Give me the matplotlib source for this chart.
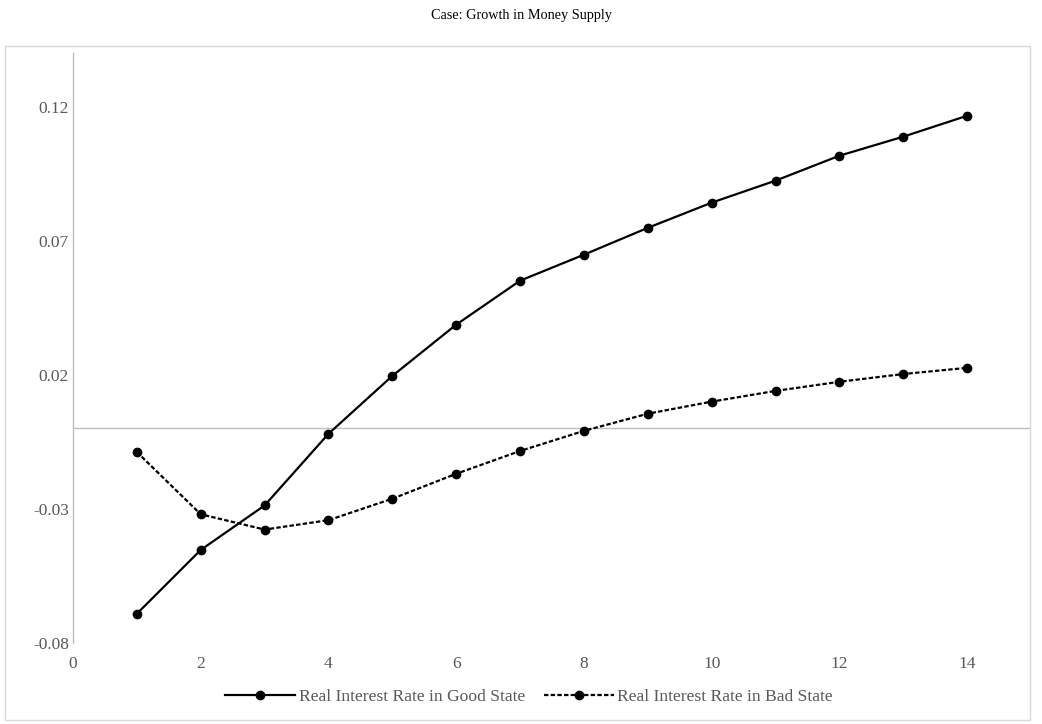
import matplotlib.pyplot as plt
from matplotlib.patches import Rectangle
from matplotlib.lines import Line2D

plt.rcParams['font.family'] = ['Liberation Serif', 'DejaVu Serif']
plt.rcParams['axes.unicode_minus'] = False

# periods and the two series
periods = [1, 2, 3, 4, 5, 6, 7, 8, 9, 10, 11, 12, 13, 14]
good_state = [-0.0691, -0.0453, -0.0287, -0.0020, 0.0196, 0.0387, 0.0551,
              0.0648, 0.0748, 0.0842, 0.0924, 0.1017, 0.1088, 0.1166]
bad_state = [-0.0088, -0.0320, -0.0377, -0.0342, -0.0262, -0.0169, -0.0084,
             -0.0009, 0.0055, 0.0100, 0.0140, 0.0174, 0.0203, 0.0226]
y_ticks = [-0.08, -0.03, 0.02, 0.07, 0.12]
x_ticks = [0, 2, 4, 6, 8, 10, 12, 14]

W, H = 1042, 724
fig = plt.figure(figsize=(W / 100, H / 100), dpi=100)
ax = fig.add_axes([73 / W, (H - 643) / H, (1031 - 73) / W, (643 - 53) / H])

# outer chart border
fig.patches.append(Rectangle((5 / W, 4 / H), 1025 / W, 674 / H,
                             transform=fig.transFigure, fill=False,
                             edgecolor='#d9d9d9', linewidth=1))

ax.plot(periods, good_state, color='black', linewidth=1.6, marker='o',
        markersize=6, label='Real Interest Rate in Good State', zorder=3)
ax.plot(periods, bad_state, color='black', linewidth=1.6, marker='o',
        markersize=6, linestyle=(0, (2, 1)),
        label='Real Interest Rate in Bad State', zorder=3)

ax.axhline(0, color='#bfbfbf', linewidth=1, zorder=1)

ax.set_xlim(0, 15)
ax.set_ylim(-0.08, 0.14)
ax.set_xticks(x_ticks)
ax.set_yticks(y_ticks)
ax.set_yticklabels([f'{v:.2f}' for v in y_ticks])
ax.tick_params(length=0, labelsize=12.5, colors='#595959', pad=3)
ax.tick_params(axis='x', pad=9)

for side in ['top', 'right', 'bottom']:
    ax.spines[side].set_visible(False)
ax.spines['left'].set_color('#bfbfbf')
ax.spines['left'].set_linewidth(1)

fig.text(0.5, 1 - 16 / H, 'Case: Growth in Money Supply', ha='center',
         va='center', fontsize=10.3, color='black')

handles = [Line2D([], [], color='black', linewidth=1.6, marker='o', markersize=6),
           Line2D([], [], color='black', linewidth=1.6, marker='o', markersize=6,
                  linestyle=(0, (2, 1)))]
fig.legend(handles, ['Real Interest Rate in Good State',
                     'Real Interest Rate in Bad State'],
           loc='center', bbox_to_anchor=(529 / W, 1 - 697 / H), ncol=2,
           frameon=False, fontsize=12.6, handlelength=4.0,
           handletextpad=0.2, columnspacing=1.05, labelcolor='#595959')

fig.savefig('out.png', dpi=100)
